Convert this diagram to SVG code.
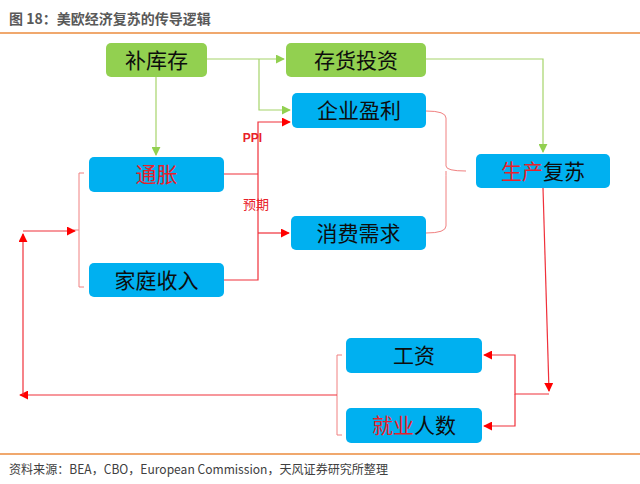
<svg xmlns="http://www.w3.org/2000/svg" width="640" height="484" viewBox="0 0 640 484">
<style>
.g{fill:#92D050}
.b{fill:#00B0F0}
.t{font-family:"Noto Sans CJK SC","Liberation Sans",sans-serif;font-size:21px;fill:#0d0d0d;text-anchor:middle}
.r{fill:#E8202A}
.lr{fill:none;stroke:#F0303A;stroke-width:1.2}
.lg{fill:none;stroke:#A6D46A;stroke-width:1.2}
.br{fill:none;stroke:#F08080;stroke-width:1}
</style>
<defs>
<marker id="ar" viewBox="0 0 10 10" refX="9" refY="5" markerWidth="9" markerHeight="9" markerUnits="userSpaceOnUse" orient="auto"><path d="M0,0L10,5L0,10z" fill="#FF0000"/></marker>
<marker id="ag" viewBox="0 0 10 10" refX="9" refY="5" markerWidth="9" markerHeight="9" markerUnits="userSpaceOnUse" orient="auto"><path d="M0,0L10,5L0,10z" fill="#92D050"/></marker>
</defs>
<rect width="640" height="484" fill="#fff"/>
<text x="9" y="24" font-family="'Noto Sans CJK SC','Liberation Sans',sans-serif" font-size="14" font-weight="bold" fill="#595959">图 18：美欧经济复苏的传导逻辑</text>
<line x1="0" y1="33" x2="640" y2="33" stroke="#EB8B3C" stroke-width="1.5"/>
<line x1="0" y1="454" x2="640" y2="454" stroke="#EB8B3C" stroke-width="1.5"/>
<text x="9" y="474" font-family="'Noto Sans CJK SC','Liberation Sans',sans-serif" font-size="12.5" fill="#404040" textLength="379" lengthAdjust="spacingAndGlyphs">资料来源：BEA，CBO，European Commission，天风证券研究所整理</text>
<g id="connectors">
<path class="lg" d="M207,59H284" marker-end="url(#ag)"/>
<path class="lg" d="M259,59V110H290" marker-end="url(#ag)"/>
<path class="lg" d="M156,77V155" marker-end="url(#ag)"/>
<path class="lg" d="M426,59H543V152" marker-end="url(#ag)"/>
<path class="lr" d="M224,174H258"/>
<path class="lr" d="M224,280H258V122H290" marker-end="url(#ar)"/>
<path class="lr" d="M258,233H289" marker-end="url(#ar)"/>
<path class="br" d="M426,111Q446,111 446,118V166Q446,171 466,171M446,171Q446,176 446,180V226Q446,233 426,233"/>
<path class="br" d="M84,173H79V287H84M79,230H73"/>
<path class="lr" d="M543,188L549,391" marker-end="url(#ar)"/>
<path class="lr" d="M549,394H515V355H484" marker-end="url(#ar)"/>
<path class="lr" d="M515,394V426H484" marker-end="url(#ar)"/>
<path class="br" d="M342,355H337V435H342"/>
<path class="lr" d="M337,395H20" marker-end="url(#ar)"/>
<path class="lr" d="M23,395V234" marker-end="url(#ar)"/>
<path class="lr" d="M23,231H75" marker-end="url(#ar)"/>
<text x="252.5" y="142" font-family="'Liberation Sans',sans-serif" font-size="12" font-weight="bold" fill="#E8202A" text-anchor="middle">PPI</text>
<text x="256" y="209" font-family="'Noto Sans CJK SC',sans-serif" font-size="13" fill="#E8202A" text-anchor="middle">预期</text>
</g>
<g id="n1"><rect class="g" x="106" y="43" width="101" height="34" rx="5"/><text class="t" x="156.5" y="68">补库存</text></g>
<g id="n2"><rect class="g" x="286" y="43" width="140" height="34" rx="5"/><text class="t" x="356" y="68">存货投资</text></g>
<g id="n3"><rect class="b" x="292" y="93" width="134" height="35" rx="5"/><text class="t" x="359" y="118">企业盈利</text></g>
<g id="n4"><rect class="b" x="89" y="157" width="135" height="35" rx="5"/><text class="t r" x="156.5" y="182">通胀</text></g>
<g id="n5"><rect class="b" x="291" y="216" width="135" height="34" rx="5"/><text class="t" x="358.5" y="241">消费需求</text></g>
<g id="n6"><rect class="b" x="89" y="263" width="135" height="34" rx="5"/><text class="t" x="156.5" y="288">家庭收入</text></g>
<g id="n7"><rect class="b" x="476" y="154" width="134" height="34" rx="5"/><text class="t" x="543" y="179"><tspan class="r">生产</tspan>复苏</text></g>
<g id="n8"><rect class="b" x="346" y="338" width="136" height="35" rx="5"/><text class="t" x="414" y="363">工资</text></g>
<g id="n9"><rect class="b" x="346" y="408" width="136" height="35" rx="5"/><text class="t" x="414" y="433"><tspan class="r">就业</tspan>人数</text></g>
</svg>
